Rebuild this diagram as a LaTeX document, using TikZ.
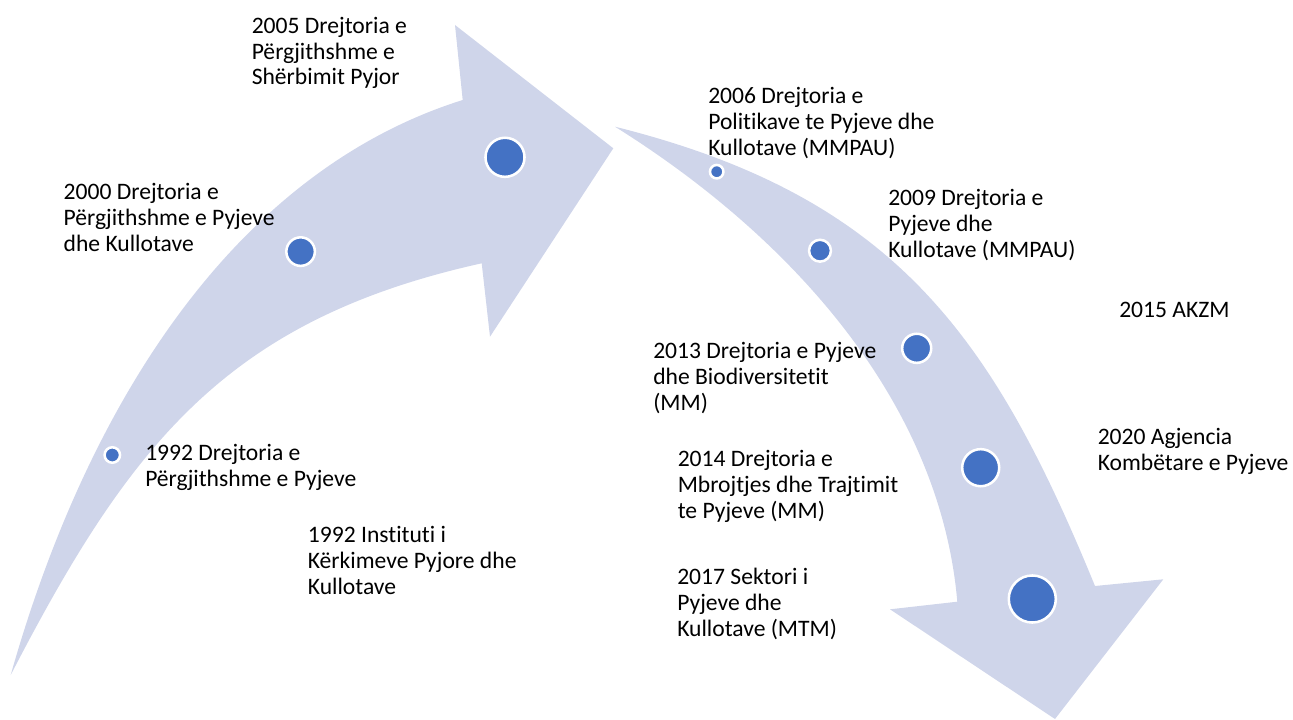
\documentclass[tikz,border=0pt]{standalone}
\usepackage{fontspec}
\setmainfont{Carlito}[Ligatures=NoCommon]
\usepackage{tikz}
\usetikzlibrary{shapes.geometric, arrows}
\definecolor{bandfill}{HTML}{CFD5EA}
\definecolor{dotblue}{HTML}{4472C4}

\begin{document}
\begin{tikzpicture}[x=0.75pt, y=-0.75pt,
    dot/.style={circle, fill=dotblue, draw=white, line width=1.9pt, inner sep=0pt},
    lbl/.style={anchor=north west, inner sep=0pt, align=left, font=\fontsize{17.7}{19.5}\selectfont}]
    \useasboundingbox (0,0) rectangle (1293,720);
    \fill[bandfill] (10.7,675) .. controls (90,395) and (240,170) .. (462.7,100) -- (455,25) -- (613.3,148.3) -- (490,336.7) -- (481.7,263.3) .. controls (227.4,319.7) and (130.3,443.6) .. (10.7,675) -- cycle;
    \fill[bandfill] (615,126.7) .. controls (895,196.7) and (992.5,336) .. (1095,586) -- (1163.3,579.3) -- (1055,719) -- (890,609.3) -- (957.3,601.7) .. controls (940,401.7) and (791,236.7) .. (615,126.7) -- cycle;
    \node[dot, minimum size=11.6pt] (d1992) at (112.3,455) {};
    \node[dot, minimum size=21.4pt] (d2000) at (300.6,251.6) {};
    \node[dot, minimum size=29.3pt] (d2005) at (505,157.3) {};
    \node[dot, minimum size=10.1pt] (d2006) at (716.7,171.7) {};
    \node[dot, minimum size=16.4pt] (d2009) at (820,250.7) {};
    \node[dot, minimum size=21.8pt] (d2013) at (916.7,348.3) {};
    \node[dot, minimum size=27.8pt] (d2014) at (980.7,467.7) {};
    \node[dot, minimum size=35.3pt] (d2017) at (1032.3,599) {};
    \node[lbl] (t2005) at (251.5,16.5) {2005 Drejtoria e\\Përgjithshme e\\Shërbimit Pyjor};
    \node[lbl] (t2000) at (63.4,183.2) {2000 Drejtoria e\\Përgjithshme e Pyjeve\\dhe Kullotave};
    \node[lbl] (t1992a) at (145,444) {1992 Drejtoria e\\Përgjithshme e Pyjeve};
    \node[lbl] (t1992b) at (307.6,526.2) {1992 Instituti i\\Kërkimeve Pyjore dhe\\Kullotave};
    \node[lbl] (t2006) at (708,86.5) {2006 Drejtoria e\\Politikave te Pyjeve dhe\\Kullotave (MMPAU)};
    \node[lbl] (t2009) at (888,188.5) {2009 Drejtoria e\\Pyjeve dhe\\Kullotave (MMPAU)};
    \node[lbl] (t2015) at (1119,301.5) {2015 AKZM};
    \node[lbl] (t2013) at (653,341.5) {2013 Drejtoria e Pyjeve\\dhe Biodiversitetit\\(MM)};
    \node[lbl] (t2014) at (677.5,449.5) {2014 Drejtoria e\\Mbrojtjes dhe Trajtimit\\te Pyjeve (MM)};
    \node[lbl] (t2017) at (677,567.5) {2017 Sektori i\\Pyjeve dhe\\Kullotave (MTM)};
    \node[lbl] (t2020) at (1097.5,427.5) {2020 Agjencia\\Kombëtare e Pyjeve};
\end{tikzpicture}
\end{document}
